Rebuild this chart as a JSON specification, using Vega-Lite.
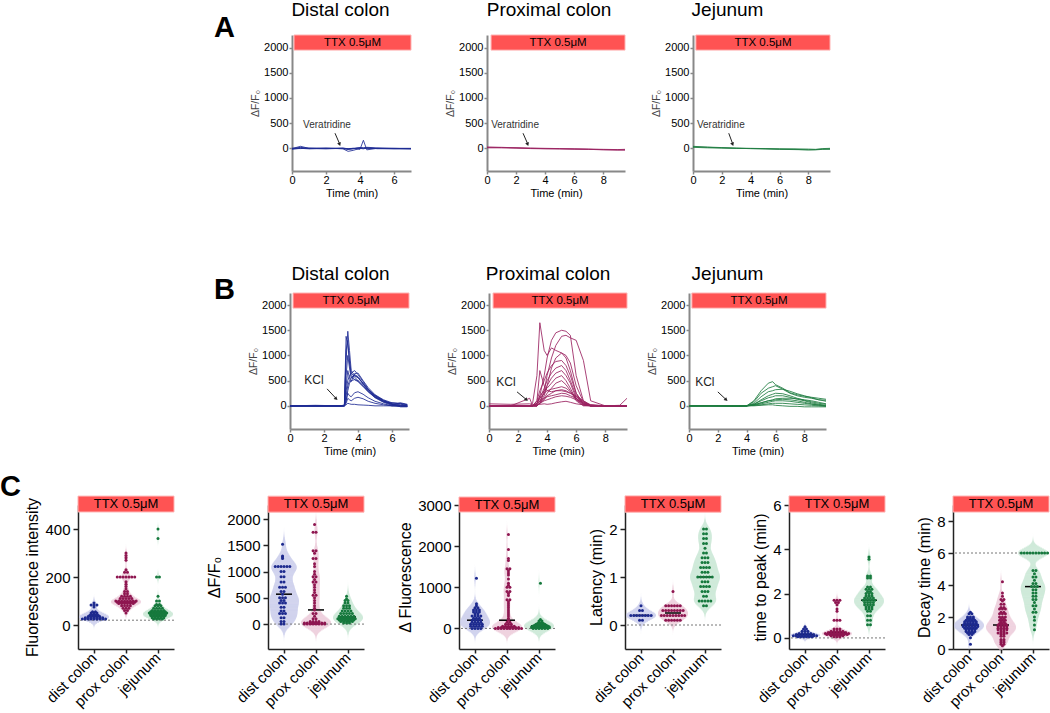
{
"$schema":"https://vega.github.io/schema/vega-lite/v6.json",
"padding":0,
"background":"white",
"spacing":0,"bounds":"full",
"config":{"font":"Liberation Sans","view":{"stroke":null},
"axis":{"grid":false,"labelOverlap":false,"labelFlush":false,"labelFontSize":15,"titleFontSize":16,"titleFontWeight":"normal","labelColor":"#000","titleColor":"#000","domainColor":"#222","domainWidth":1.5,"tickColor":"#222","tickWidth":1.5,"tickSize":5,"labelPadding":3,"titlePadding":4},
"title":{"fontWeight":"normal","color":"#000"}},
"datasets":{
"a1":[{"k":1,"t":0,"v":-10},{"k":1,"t":0.5,"v":20},{"k":1,"t":1,"v":-5},{"k":1,"t":2,"v":-10},{"k":1,"t":3,"v":0},{"k":1,"t":3.3,"v":-20},{"k":1,"t":3.6,"v":-10},{"k":1,"t":4,"v":10},{"k":1,"t":4.2,"v":5},{"k":1,"t":4.4,"v":0},{"k":1,"t":5,"v":-5},{"k":1,"t":6,"v":-10},{"k":1,"t":7,"v":-10},
{"k":2,"t":0,"v":0},{"k":2,"t":0.5,"v":-5},{"k":2,"t":1,"v":5},{"k":2,"t":2,"v":0},{"k":2,"t":3,"v":5},{"k":2,"t":3.3,"v":-10},{"k":2,"t":3.6,"v":0},{"k":2,"t":4,"v":-20},{"k":2,"t":4.2,"v":160},{"k":2,"t":4.4,"v":-30},{"k":2,"t":5,"v":0},{"k":2,"t":6,"v":-5},{"k":2,"t":7,"v":-5},
{"k":3,"t":0,"v":-20},{"k":3,"t":0.5,"v":0},{"k":3,"t":1,"v":-10},{"k":3,"t":2,"v":5},{"k":3,"t":3,"v":-10},{"k":3,"t":3.3,"v":-60},{"k":3,"t":3.6,"v":-40},{"k":3,"t":4,"v":0},{"k":3,"t":4.2,"v":-10},{"k":3,"t":4.4,"v":5},{"k":3,"t":5,"v":-5},{"k":3,"t":6,"v":0},{"k":3,"t":7,"v":-10},
{"k":4,"t":0,"v":-5},{"k":4,"t":0.5,"v":40},{"k":4,"t":1,"v":0},{"k":4,"t":2,"v":0},{"k":4,"t":3,"v":-5},{"k":4,"t":3.3,"v":-20},{"k":4,"t":3.6,"v":-5},{"k":4,"t":4,"v":5},{"k":4,"t":4.2,"v":0},{"k":4,"t":4.4,"v":10},{"k":4,"t":5,"v":-5},{"k":4,"t":6,"v":-5},{"k":4,"t":7,"v":-5},
{"k":5,"t":0,"v":0},{"k":5,"t":0.5,"v":10},{"k":5,"t":1,"v":0},{"k":5,"t":2,"v":-5},{"k":5,"t":3,"v":0},{"k":5,"t":3.3,"v":-5},{"k":5,"t":3.6,"v":0},{"k":5,"t":4,"v":15},{"k":5,"t":4.2,"v":10},{"k":5,"t":4.4,"v":20},{"k":5,"t":5,"v":10},{"k":5,"t":6,"v":0},{"k":5,"t":7,"v":0}],
"a2":[{"k":1,"t":0,"v":20},{"k":1,"t":1,"v":15},{"k":1,"t":2,"v":10},{"k":1,"t":3,"v":0},{"k":1,"t":4,"v":-5},{"k":1,"t":5,"v":-10},{"k":1,"t":6,"v":-15},{"k":1,"t":7,"v":-20},{"k":1,"t":8,"v":-25},{"k":1,"t":9,"v":-30},{"k":1,"t":9.5,"v":-30},
{"k":2,"t":0,"v":10},{"k":2,"t":1,"v":10},{"k":2,"t":2,"v":5},{"k":2,"t":3,"v":-5},{"k":2,"t":4,"v":-10},{"k":2,"t":5,"v":-10},{"k":2,"t":6,"v":-15},{"k":2,"t":7,"v":-20},{"k":2,"t":8,"v":-30},{"k":2,"t":9,"v":-35},{"k":2,"t":9.5,"v":-35},
{"k":3,"t":0,"v":25},{"k":3,"t":1,"v":20},{"k":3,"t":2,"v":10},{"k":3,"t":3,"v":5},{"k":3,"t":4,"v":0},{"k":3,"t":5,"v":-5},{"k":3,"t":6,"v":-10},{"k":3,"t":7,"v":-15},{"k":3,"t":8,"v":-20},{"k":3,"t":9,"v":-25},{"k":3,"t":9.5,"v":-20}],
"a3":[{"k":1,"t":0,"v":30},{"k":1,"t":1,"v":20},{"k":1,"t":2,"v":10},{"k":1,"t":3,"v":0},{"k":1,"t":4,"v":-5},{"k":1,"t":5,"v":-10},{"k":1,"t":6,"v":-15},{"k":1,"t":7,"v":-20},{"k":1,"t":8,"v":-30},{"k":1,"t":8.5,"v":-25},{"k":1,"t":9,"v":-15},{"k":1,"t":9.5,"v":-10},
{"k":2,"t":0,"v":20},{"k":2,"t":1,"v":10},{"k":2,"t":2,"v":5},{"k":2,"t":3,"v":0},{"k":2,"t":4,"v":-5},{"k":2,"t":5,"v":-10},{"k":2,"t":6,"v":-20},{"k":2,"t":7,"v":-25},{"k":2,"t":8,"v":-30},{"k":2,"t":8.5,"v":-30},{"k":2,"t":9,"v":-20},{"k":2,"t":9.5,"v":-20},
{"k":3,"t":0,"v":40},{"k":3,"t":1,"v":25},{"k":3,"t":2,"v":15},{"k":3,"t":3,"v":5},{"k":3,"t":4,"v":0},{"k":3,"t":5,"v":-5},{"k":3,"t":6,"v":-10},{"k":3,"t":7,"v":-10},{"k":3,"t":8,"v":-15},{"k":3,"t":8.5,"v":-20},{"k":3,"t":9,"v":-5},{"k":3,"t":9.5,"v":0}],
"b1":[
{"k":1,"t":0,"v":0},{"k":1,"t":1.5,"v":10},{"k":1,"t":3,"v":0},{"k":1,"t":3.2,"v":20},{"k":1,"t":3.3,"v":900},{"k":1,"t":3.4,"v":1480},{"k":1,"t":3.5,"v":1100},{"k":1,"t":3.6,"v":700},{"k":1,"t":3.8,"v":600},{"k":1,"t":4,"v":560},{"k":1,"t":4.3,"v":450},{"k":1,"t":4.6,"v":330},{"k":1,"t":5,"v":200},{"k":1,"t":5.5,"v":100},{"k":1,"t":6,"v":40},{"k":1,"t":6.5,"v":20},{"k":1,"t":6.9,"v":0},
{"k":2,"t":0,"v":5},{"k":2,"t":1.5,"v":0},{"k":2,"t":3,"v":-5},{"k":2,"t":3.2,"v":10},{"k":2,"t":3.3,"v":1380},{"k":2,"t":3.4,"v":1200},{"k":2,"t":3.5,"v":900},{"k":2,"t":3.6,"v":650},{"k":2,"t":3.8,"v":570},{"k":2,"t":4,"v":500},{"k":2,"t":4.3,"v":400},{"k":2,"t":4.6,"v":300},{"k":2,"t":5,"v":180},{"k":2,"t":5.5,"v":90},{"k":2,"t":6,"v":30},{"k":2,"t":6.5,"v":40},{"k":2,"t":6.9,"v":-10},
{"k":3,"t":0,"v":0},{"k":3,"t":1.5,"v":-5},{"k":3,"t":3,"v":5},{"k":3,"t":3.2,"v":0},{"k":3,"t":3.3,"v":1100},{"k":3,"t":3.4,"v":1300},{"k":3,"t":3.5,"v":850},{"k":3,"t":3.6,"v":600},{"k":3,"t":3.8,"v":520},{"k":3,"t":4,"v":480},{"k":3,"t":4.3,"v":380},{"k":3,"t":4.6,"v":280},{"k":3,"t":5,"v":170},{"k":3,"t":5.5,"v":80},{"k":3,"t":6,"v":60},{"k":3,"t":6.5,"v":50},{"k":3,"t":6.9,"v":20},
{"k":4,"t":0,"v":0},{"k":4,"t":1.5,"v":5},{"k":4,"t":3,"v":0},{"k":4,"t":3.2,"v":5},{"k":4,"t":3.3,"v":600},{"k":4,"t":3.4,"v":1000},{"k":4,"t":3.5,"v":750},{"k":4,"t":3.6,"v":550},{"k":4,"t":3.8,"v":600},{"k":4,"t":4,"v":560},{"k":4,"t":4.3,"v":430},{"k":4,"t":4.6,"v":320},{"k":4,"t":5,"v":200},{"k":4,"t":5.5,"v":100},{"k":4,"t":6,"v":30},{"k":4,"t":6.5,"v":-20},{"k":4,"t":6.9,"v":-20},
{"k":5,"t":0,"v":0},{"k":5,"t":1.5,"v":0},{"k":5,"t":3,"v":-5},{"k":5,"t":3.2,"v":0},{"k":5,"t":3.3,"v":300},{"k":5,"t":3.4,"v":500},{"k":5,"t":3.5,"v":600},{"k":5,"t":3.6,"v":650},{"k":5,"t":3.8,"v":700},{"k":5,"t":4,"v":620},{"k":5,"t":4.3,"v":480},{"k":5,"t":4.6,"v":330},{"k":5,"t":5,"v":210},{"k":5,"t":5.5,"v":110},{"k":5,"t":6,"v":40},{"k":5,"t":6.5,"v":0},{"k":5,"t":6.9,"v":-10},
{"k":6,"t":0,"v":0},{"k":6,"t":1.5,"v":0},{"k":6,"t":3,"v":0},{"k":6,"t":3.2,"v":5},{"k":6,"t":3.3,"v":200},{"k":6,"t":3.4,"v":400},{"k":6,"t":3.5,"v":500},{"k":6,"t":3.6,"v":560},{"k":6,"t":3.8,"v":620},{"k":6,"t":4,"v":580},{"k":6,"t":4.3,"v":440},{"k":6,"t":4.6,"v":300},{"k":6,"t":5,"v":180},{"k":6,"t":5.5,"v":80},{"k":6,"t":6,"v":20},{"k":6,"t":6.5,"v":60},{"k":6,"t":6.9,"v":30},
{"k":7,"t":0,"v":-5},{"k":7,"t":1.5,"v":0},{"k":7,"t":3,"v":0},{"k":7,"t":3.2,"v":0},{"k":7,"t":3.3,"v":100},{"k":7,"t":3.4,"v":300},{"k":7,"t":3.5,"v":450},{"k":7,"t":3.6,"v":500},{"k":7,"t":3.8,"v":520},{"k":7,"t":4,"v":500},{"k":7,"t":4.3,"v":400},{"k":7,"t":4.6,"v":280},{"k":7,"t":5,"v":160},{"k":7,"t":5.5,"v":70},{"k":7,"t":6,"v":10},{"k":7,"t":6.5,"v":-10},{"k":7,"t":6.9,"v":-10},
{"k":8,"t":0,"v":0},{"k":8,"t":1.5,"v":0},{"k":8,"t":3,"v":0},{"k":8,"t":3.2,"v":0},{"k":8,"t":3.3,"v":400},{"k":8,"t":3.4,"v":700},{"k":8,"t":3.5,"v":550},{"k":8,"t":3.6,"v":480},{"k":8,"t":3.8,"v":640},{"k":8,"t":4,"v":650},{"k":8,"t":4.3,"v":500},{"k":8,"t":4.6,"v":360},{"k":8,"t":5,"v":220},{"k":8,"t":5.5,"v":120},{"k":8,"t":6,"v":60},{"k":8,"t":6.5,"v":40},{"k":8,"t":6.9,"v":20},
{"k":9,"t":0,"v":0},{"k":9,"t":1.5,"v":0},{"k":9,"t":3,"v":0},{"k":9,"t":3.2,"v":0},{"k":9,"t":3.3,"v":100},{"k":9,"t":3.4,"v":250},{"k":9,"t":3.5,"v":200},{"k":9,"t":3.6,"v":180},{"k":9,"t":3.8,"v":260},{"k":9,"t":4,"v":280},{"k":9,"t":4.3,"v":230},{"k":9,"t":4.6,"v":160},{"k":9,"t":5,"v":90},{"k":9,"t":5.5,"v":40},{"k":9,"t":6,"v":0},{"k":9,"t":6.5,"v":0},{"k":9,"t":6.9,"v":0},
{"k":10,"t":0,"v":0},{"k":10,"t":1.5,"v":0},{"k":10,"t":3,"v":0},{"k":10,"t":3.2,"v":0},{"k":10,"t":3.3,"v":50},{"k":10,"t":3.4,"v":150},{"k":10,"t":3.5,"v":120},{"k":10,"t":3.6,"v":100},{"k":10,"t":3.8,"v":150},{"k":10,"t":4,"v":170},{"k":10,"t":4.3,"v":140},{"k":10,"t":4.6,"v":90},{"k":10,"t":5,"v":50},{"k":10,"t":5.5,"v":20},{"k":10,"t":6,"v":0},{"k":10,"t":6.5,"v":0},{"k":10,"t":6.9,"v":0},
{"k":11,"t":0,"v":0},{"k":11,"t":1.5,"v":0},{"k":11,"t":3,"v":0},{"k":11,"t":3.2,"v":0},{"k":11,"t":3.3,"v":20},{"k":11,"t":3.4,"v":50},{"k":11,"t":3.5,"v":40},{"k":11,"t":3.6,"v":30},{"k":11,"t":3.8,"v":30},{"k":11,"t":4,"v":20},{"k":11,"t":4.3,"v":15},{"k":11,"t":4.6,"v":10},{"k":11,"t":5,"v":0},{"k":11,"t":5.5,"v":0},{"k":11,"t":6,"v":0},{"k":11,"t":6.5,"v":0},{"k":11,"t":6.9,"v":0}],
"b2":[
{"k":1,"t":0,"v":0},{"k":1,"t":1.5,"v":0},{"k":1,"t":2.8,"v":0},{"k":1,"t":3,"v":50},{"k":1,"t":3.3,"v":600},{"k":1,"t":3.5,"v":1650},{"k":1,"t":3.8,"v":1100},{"k":1,"t":4,"v":1000},{"k":1,"t":4.3,"v":1150},{"k":1,"t":4.6,"v":1100},{"k":1,"t":5,"v":1050},{"k":1,"t":5.3,"v":950},{"k":1,"t":5.6,"v":700},{"k":1,"t":6,"v":250},{"k":1,"t":6.5,"v":30},{"k":1,"t":7,"v":0},{"k":1,"t":8,"v":0},{"k":1,"t":9,"v":0},{"k":1,"t":9.5,"v":0},
{"k":2,"t":0,"v":0},{"k":2,"t":1.5,"v":0},{"k":2,"t":2.8,"v":0},{"k":2,"t":3,"v":0},{"k":2,"t":3.3,"v":50},{"k":2,"t":3.5,"v":200},{"k":2,"t":3.8,"v":600},{"k":2,"t":4,"v":950},{"k":2,"t":4.3,"v":1300},{"k":2,"t":4.6,"v":1450},{"k":2,"t":5,"v":1500},{"k":2,"t":5.3,"v":1480},{"k":2,"t":5.6,"v":1400},{"k":2,"t":6,"v":600},{"k":2,"t":6.5,"v":100},{"k":2,"t":7,"v":0},{"k":2,"t":8,"v":0},{"k":2,"t":9,"v":0},{"k":2,"t":9.5,"v":0},
{"k":3,"t":0,"v":0},{"k":3,"t":1.5,"v":0},{"k":3,"t":2.8,"v":0},{"k":3,"t":3,"v":0},{"k":3,"t":3.3,"v":0},{"k":3,"t":3.5,"v":50},{"k":3,"t":3.8,"v":300},{"k":3,"t":4,"v":600},{"k":3,"t":4.3,"v":950},{"k":3,"t":4.6,"v":1200},{"k":3,"t":5,"v":1380},{"k":3,"t":5.3,"v":1400},{"k":3,"t":5.6,"v":1350},{"k":3,"t":6,"v":1300},{"k":3,"t":6.5,"v":900},{"k":3,"t":7,"v":100},{"k":3,"t":8,"v":0},{"k":3,"t":9,"v":0},{"k":3,"t":9.5,"v":0},
{"k":4,"t":0,"v":0},{"k":4,"t":1.5,"v":0},{"k":4,"t":2.8,"v":0},{"k":4,"t":3,"v":0},{"k":4,"t":3.3,"v":0},{"k":4,"t":3.5,"v":50},{"k":4,"t":3.8,"v":200},{"k":4,"t":4,"v":400},{"k":4,"t":4.3,"v":750},{"k":4,"t":4.6,"v":950},{"k":4,"t":5,"v":1050},{"k":4,"t":5.3,"v":1000},{"k":4,"t":5.6,"v":850},{"k":4,"t":6,"v":400},{"k":4,"t":6.5,"v":80},{"k":4,"t":7,"v":0},{"k":4,"t":8,"v":0},{"k":4,"t":9,"v":0},{"k":4,"t":9.5,"v":0},
{"k":5,"t":0,"v":0},{"k":5,"t":1.5,"v":0},{"k":5,"t":2.8,"v":0},{"k":5,"t":3,"v":0},{"k":5,"t":3.3,"v":100},{"k":5,"t":3.5,"v":300},{"k":5,"t":3.8,"v":500},{"k":5,"t":4,"v":650},{"k":5,"t":4.3,"v":800},{"k":5,"t":4.6,"v":880},{"k":5,"t":5,"v":900},{"k":5,"t":5.3,"v":800},{"k":5,"t":5.6,"v":600},{"k":5,"t":6,"v":250},{"k":5,"t":6.5,"v":50},{"k":5,"t":7,"v":0},{"k":5,"t":8,"v":0},{"k":5,"t":9,"v":0},{"k":5,"t":9.5,"v":0},
{"k":6,"t":0,"v":0},{"k":6,"t":1.5,"v":0},{"k":6,"t":2.8,"v":0},{"k":6,"t":3,"v":0},{"k":6,"t":3.3,"v":50},{"k":6,"t":3.5,"v":150},{"k":6,"t":3.8,"v":350},{"k":6,"t":4,"v":500},{"k":6,"t":4.3,"v":650},{"k":6,"t":4.6,"v":750},{"k":6,"t":5,"v":800},{"k":6,"t":5.3,"v":700},{"k":6,"t":5.6,"v":500},{"k":6,"t":6,"v":200},{"k":6,"t":6.5,"v":40},{"k":6,"t":7,"v":0},{"k":6,"t":8,"v":0},{"k":6,"t":9,"v":0},{"k":6,"t":9.5,"v":0},
{"k":7,"t":0,"v":0},{"k":7,"t":1.5,"v":0},{"k":7,"t":2.8,"v":0},{"k":7,"t":3,"v":0},{"k":7,"t":3.3,"v":0},{"k":7,"t":3.5,"v":100},{"k":7,"t":3.8,"v":250},{"k":7,"t":4,"v":400},{"k":7,"t":4.3,"v":550},{"k":7,"t":4.6,"v":650},{"k":7,"t":5,"v":700},{"k":7,"t":5.3,"v":600},{"k":7,"t":5.6,"v":450},{"k":7,"t":6,"v":150},{"k":7,"t":6.5,"v":20},{"k":7,"t":7,"v":0},{"k":7,"t":8,"v":0},{"k":7,"t":9,"v":0},{"k":7,"t":9.5,"v":0},
{"k":8,"t":0,"v":0},{"k":8,"t":1.5,"v":0},{"k":8,"t":2.8,"v":0},{"k":8,"t":3,"v":0},{"k":8,"t":3.3,"v":50},{"k":8,"t":3.5,"v":200},{"k":8,"t":3.8,"v":300},{"k":8,"t":4,"v":350},{"k":8,"t":4.3,"v":450},{"k":8,"t":4.6,"v":550},{"k":8,"t":5,"v":600},{"k":8,"t":5.3,"v":500},{"k":8,"t":5.6,"v":350},{"k":8,"t":6,"v":120},{"k":8,"t":6.5,"v":10},{"k":8,"t":7,"v":0},{"k":8,"t":8,"v":0},{"k":8,"t":9,"v":0},{"k":8,"t":9.5,"v":0},
{"k":9,"t":0,"v":0},{"k":9,"t":1.5,"v":0},{"k":9,"t":2.8,"v":0},{"k":9,"t":3,"v":0},{"k":9,"t":3.3,"v":0},{"k":9,"t":3.5,"v":50},{"k":9,"t":3.8,"v":150},{"k":9,"t":4,"v":250},{"k":9,"t":4.3,"v":350},{"k":9,"t":4.6,"v":450},{"k":9,"t":5,"v":500},{"k":9,"t":5.3,"v":420},{"k":9,"t":5.6,"v":300},{"k":9,"t":6,"v":100},{"k":9,"t":6.5,"v":0},{"k":9,"t":7,"v":0},{"k":9,"t":8,"v":0},{"k":9,"t":9,"v":0},{"k":9,"t":9.5,"v":0},
{"k":10,"t":0,"v":0},{"k":10,"t":1.5,"v":0},{"k":10,"t":2.8,"v":0},{"k":10,"t":3,"v":0},{"k":10,"t":3.3,"v":50},{"k":10,"t":3.5,"v":150},{"k":10,"t":3.8,"v":250},{"k":10,"t":4,"v":300},{"k":10,"t":4.3,"v":330},{"k":10,"t":4.6,"v":350},{"k":10,"t":5,"v":380},{"k":10,"t":5.3,"v":350},{"k":10,"t":5.6,"v":280},{"k":10,"t":6,"v":150},{"k":10,"t":6.5,"v":30},{"k":10,"t":7,"v":0},{"k":10,"t":8,"v":0},{"k":10,"t":9,"v":0},{"k":10,"t":9.5,"v":0},
{"k":11,"t":0,"v":0},{"k":11,"t":1.5,"v":0},{"k":11,"t":2.8,"v":0},{"k":11,"t":3,"v":0},{"k":11,"t":3.3,"v":0},{"k":11,"t":3.5,"v":50},{"k":11,"t":3.8,"v":120},{"k":11,"t":4,"v":200},{"k":11,"t":4.3,"v":250},{"k":11,"t":4.6,"v":300},{"k":11,"t":5,"v":300},{"k":11,"t":5.3,"v":280},{"k":11,"t":5.6,"v":250},{"k":11,"t":6,"v":180},{"k":11,"t":6.5,"v":80},{"k":11,"t":7,"v":10},{"k":11,"t":8,"v":0},{"k":11,"t":9,"v":0},{"k":11,"t":9.5,"v":0},
{"k":12,"t":0,"v":0},{"k":12,"t":1.5,"v":0},{"k":12,"t":2.8,"v":0},{"k":12,"t":3,"v":0},{"k":12,"t":3.3,"v":100},{"k":12,"t":3.5,"v":700},{"k":12,"t":3.8,"v":400},{"k":12,"t":4,"v":300},{"k":12,"t":4.3,"v":280},{"k":12,"t":4.6,"v":300},{"k":12,"t":5,"v":320},{"k":12,"t":5.3,"v":300},{"k":12,"t":5.6,"v":250},{"k":12,"t":6,"v":200},{"k":12,"t":6.5,"v":100},{"k":12,"t":7,"v":20},{"k":12,"t":8,"v":0},{"k":12,"t":9,"v":0},{"k":12,"t":9.5,"v":0},
{"k":13,"t":0,"v":0},{"k":13,"t":1.5,"v":0},{"k":13,"t":2.8,"v":0},{"k":13,"t":3,"v":0},{"k":13,"t":3.3,"v":30},{"k":13,"t":3.5,"v":100},{"k":13,"t":3.8,"v":150},{"k":13,"t":4,"v":180},{"k":13,"t":4.3,"v":200},{"k":13,"t":4.6,"v":220},{"k":13,"t":5,"v":250},{"k":13,"t":5.3,"v":240},{"k":13,"t":5.6,"v":200},{"k":13,"t":6,"v":150},{"k":13,"t":6.5,"v":60},{"k":13,"t":7,"v":0},{"k":13,"t":8,"v":0},{"k":13,"t":9,"v":0},{"k":13,"t":9.5,"v":0},
{"k":14,"t":0,"v":40},{"k":14,"t":1.5,"v":30},{"k":14,"t":2.8,"v":40},{"k":14,"t":3,"v":30},{"k":14,"t":3.3,"v":20},{"k":14,"t":3.5,"v":30},{"k":14,"t":3.8,"v":40},{"k":14,"t":4,"v":30},{"k":14,"t":4.3,"v":40},{"k":14,"t":4.6,"v":60},{"k":14,"t":5,"v":80},{"k":14,"t":5.3,"v":90},{"k":14,"t":5.6,"v":70},{"k":14,"t":6,"v":40},{"k":14,"t":6.5,"v":20},{"k":14,"t":7,"v":10},{"k":14,"t":8,"v":0},{"k":14,"t":9,"v":0},{"k":14,"t":9.5,"v":0},
{"k":15,"t":0,"v":0},{"k":15,"t":1.5,"v":0},{"k":15,"t":2.8,"v":150},{"k":15,"t":3,"v":0},{"k":15,"t":3.3,"v":0},{"k":15,"t":3.5,"v":50},{"k":15,"t":3.8,"v":100},{"k":15,"t":4,"v":120},{"k":15,"t":4.3,"v":150},{"k":15,"t":4.6,"v":180},{"k":15,"t":5,"v":200},{"k":15,"t":5.3,"v":190},{"k":15,"t":5.6,"v":170},{"k":15,"t":6,"v":120},{"k":15,"t":6.5,"v":60},{"k":15,"t":7,"v":20},{"k":15,"t":8,"v":0},{"k":15,"t":9,"v":10},{"k":15,"t":9.5,"v":150}],
"b3":[
{"k":1,"t":0,"v":0},{"k":1,"t":1,"v":5},{"k":1,"t":2,"v":0},{"k":1,"t":3,"v":-10},{"k":1,"t":3.5,"v":-5},{"k":1,"t":4,"v":0},{"k":1,"t":4.5,"v":100},{"k":1,"t":5,"v":300},{"k":1,"t":5.5,"v":450},{"k":1,"t":5.8,"v":480},{"k":1,"t":6,"v":420},{"k":1,"t":6.5,"v":350},{"k":1,"t":7,"v":260},{"k":1,"t":7.5,"v":220},{"k":1,"t":8,"v":190},{"k":1,"t":8.5,"v":170},{"k":1,"t":9,"v":150},{"k":1,"t":9.5,"v":130},
{"k":2,"t":0,"v":0},{"k":2,"t":1,"v":0},{"k":2,"t":2,"v":0},{"k":2,"t":3,"v":-10},{"k":2,"t":3.5,"v":-10},{"k":2,"t":4,"v":0},{"k":2,"t":4.5,"v":80},{"k":2,"t":5,"v":250},{"k":2,"t":5.5,"v":350},{"k":2,"t":5.8,"v":380},{"k":2,"t":6,"v":400},{"k":2,"t":6.5,"v":330},{"k":2,"t":7,"v":250},{"k":2,"t":7.5,"v":200},{"k":2,"t":8,"v":170},{"k":2,"t":8.5,"v":150},{"k":2,"t":9,"v":120},{"k":2,"t":9.5,"v":110},
{"k":3,"t":0,"v":0},{"k":3,"t":1,"v":0},{"k":3,"t":2,"v":0},{"k":3,"t":3,"v":-5},{"k":3,"t":3.5,"v":-5},{"k":3,"t":4,"v":0},{"k":3,"t":4.5,"v":50},{"k":3,"t":5,"v":180},{"k":3,"t":5.5,"v":280},{"k":3,"t":5.8,"v":300},{"k":3,"t":6,"v":320},{"k":3,"t":6.5,"v":330},{"k":3,"t":7,"v":290},{"k":3,"t":7.5,"v":240},{"k":3,"t":8,"v":200},{"k":3,"t":8.5,"v":160},{"k":3,"t":9,"v":120},{"k":3,"t":9.5,"v":90},
{"k":4,"t":0,"v":0},{"k":4,"t":1,"v":0},{"k":4,"t":2,"v":0},{"k":4,"t":3,"v":0},{"k":4,"t":3.5,"v":0},{"k":4,"t":4,"v":0},{"k":4,"t":4.5,"v":30},{"k":4,"t":5,"v":120},{"k":4,"t":5.5,"v":200},{"k":4,"t":5.8,"v":230},{"k":4,"t":6,"v":250},{"k":4,"t":6.5,"v":240},{"k":4,"t":7,"v":200},{"k":4,"t":7.5,"v":150},{"k":4,"t":8,"v":110},{"k":4,"t":8.5,"v":80},{"k":4,"t":9,"v":50},{"k":4,"t":9.5,"v":30},
{"k":5,"t":0,"v":0},{"k":5,"t":1,"v":0},{"k":5,"t":2,"v":0},{"k":5,"t":3,"v":0},{"k":5,"t":3.5,"v":0},{"k":5,"t":4,"v":0},{"k":5,"t":4.5,"v":30},{"k":5,"t":5,"v":100},{"k":5,"t":5.5,"v":160},{"k":5,"t":5.8,"v":180},{"k":5,"t":6,"v":200},{"k":5,"t":6.5,"v":200},{"k":5,"t":7,"v":170},{"k":5,"t":7.5,"v":130},{"k":5,"t":8,"v":100},{"k":5,"t":8.5,"v":60},{"k":5,"t":9,"v":30},{"k":5,"t":9.5,"v":10},
{"k":6,"t":0,"v":0},{"k":6,"t":1,"v":0},{"k":6,"t":2,"v":0},{"k":6,"t":3,"v":0},{"k":6,"t":3.5,"v":0},{"k":6,"t":4,"v":0},{"k":6,"t":4.5,"v":20},{"k":6,"t":5,"v":60},{"k":6,"t":5.5,"v":100},{"k":6,"t":5.8,"v":120},{"k":6,"t":6,"v":140},{"k":6,"t":6.5,"v":150},{"k":6,"t":7,"v":150},{"k":6,"t":7.5,"v":140},{"k":6,"t":8,"v":120},{"k":6,"t":8.5,"v":100},{"k":6,"t":9,"v":70},{"k":6,"t":9.5,"v":40},
{"k":7,"t":0,"v":0},{"k":7,"t":1,"v":0},{"k":7,"t":2,"v":0},{"k":7,"t":3,"v":0},{"k":7,"t":3.5,"v":0},{"k":7,"t":4,"v":0},{"k":7,"t":4.5,"v":10},{"k":7,"t":5,"v":40},{"k":7,"t":5.5,"v":70},{"k":7,"t":5.8,"v":90},{"k":7,"t":6,"v":100},{"k":7,"t":6.5,"v":100},{"k":7,"t":7,"v":90},{"k":7,"t":7.5,"v":70},{"k":7,"t":8,"v":50},{"k":7,"t":8.5,"v":30},{"k":7,"t":9,"v":20},{"k":7,"t":9.5,"v":0},
{"k":8,"t":0,"v":0},{"k":8,"t":1,"v":0},{"k":8,"t":2,"v":0},{"k":8,"t":3,"v":0},{"k":8,"t":3.5,"v":0},{"k":8,"t":4,"v":0},{"k":8,"t":4.5,"v":10},{"k":8,"t":5,"v":20},{"k":8,"t":5.5,"v":40},{"k":8,"t":5.8,"v":50},{"k":8,"t":6,"v":50},{"k":8,"t":6.5,"v":50},{"k":8,"t":7,"v":40},{"k":8,"t":7.5,"v":30},{"k":8,"t":8,"v":20},{"k":8,"t":8.5,"v":10},{"k":8,"t":9,"v":0},{"k":8,"t":9.5,"v":-10},
{"k":9,"t":0,"v":0},{"k":9,"t":1,"v":0},{"k":9,"t":2,"v":0},{"k":9,"t":3,"v":0},{"k":9,"t":3.5,"v":0},{"k":9,"t":4,"v":0},{"k":9,"t":4.5,"v":0},{"k":9,"t":5,"v":10},{"k":9,"t":5.5,"v":20},{"k":9,"t":5.8,"v":20},{"k":9,"t":6,"v":10},{"k":9,"t":6.5,"v":0},{"k":9,"t":7,"v":-10},{"k":9,"t":7.5,"v":-10},{"k":9,"t":8,"v":-20},{"k":9,"t":8.5,"v":-20},{"k":9,"t":9,"v":-20},{"k":9,"t":9.5,"v":-20},
{"k":10,"t":0,"v":0},{"k":10,"t":1,"v":0},{"k":10,"t":2,"v":0},{"k":10,"t":3,"v":0},{"k":10,"t":3.5,"v":0},{"k":10,"t":4,"v":0},{"k":10,"t":4.5,"v":20},{"k":10,"t":5,"v":60},{"k":10,"t":5.5,"v":100},{"k":10,"t":5.8,"v":110},{"k":10,"t":6,"v":120},{"k":10,"t":6.5,"v":130},{"k":10,"t":7,"v":120},{"k":10,"t":7.5,"v":100},{"k":10,"t":8,"v":70},{"k":10,"t":8.5,"v":40},{"k":10,"t":9,"v":10},{"k":10,"t":9.5,"v":0}],
"c1":[{"c":"d","v":25},{"c":"d","v":25},{"c":"d","v":25},{"c":"d","v":25},{"c":"d","v":25},{"c":"d","v":25},{"c":"d","v":25},{"c":"d","v":25},{"c":"d","v":25},{"c":"d","v":30},{"c":"d","v":30},{"c":"d","v":30},{"c":"d","v":30},{"c":"d","v":30},{"c":"d","v":30},{"c":"d","v":30},{"c":"d","v":35},{"c":"d","v":35},{"c":"d","v":35},{"c":"d","v":35},{"c":"d","v":35},{"c":"d","v":40},{"c":"d","v":40},{"c":"d","v":40},{"c":"d","v":40},{"c":"d","v":45},{"c":"d","v":45},{"c":"d","v":45},{"c":"d","v":50},{"c":"d","v":50},{"c":"d","v":50},{"c":"d","v":55},{"c":"d","v":55},{"c":"d","v":75},{"c":"d","v":83},{"c":"d","v":83},{"c":"d","v":83},{"c":"d","v":92},
{"c":"p","v":300},{"c":"p","v":290},{"c":"p","v":280},{"c":"p","v":270},{"c":"p","v":230},{"c":"p","v":220},{"c":"p","v":220},{"c":"p","v":200},{"c":"p","v":200},{"c":"p","v":200},{"c":"p","v":200},{"c":"p","v":200},{"c":"p","v":200},{"c":"p","v":200},{"c":"p","v":180},{"c":"p","v":170},{"c":"p","v":160},{"c":"p","v":150},{"c":"p","v":140},{"c":"p","v":140},{"c":"p","v":130},{"c":"p","v":130},{"c":"p","v":120},{"c":"p","v":120},{"c":"p","v":120},{"c":"p","v":120},{"c":"p","v":110},{"c":"p","v":110},{"c":"p","v":110},{"c":"p","v":110},{"c":"p","v":110},{"c":"p","v":100},{"c":"p","v":100},{"c":"p","v":100},{"c":"p","v":100},{"c":"p","v":100},{"c":"p","v":100},{"c":"p","v":100},{"c":"p","v":100},{"c":"p","v":95},{"c":"p","v":95},{"c":"p","v":95},{"c":"p","v":95},{"c":"p","v":95},{"c":"p","v":95},{"c":"p","v":95},{"c":"p","v":90},{"c":"p","v":90},{"c":"p","v":90},{"c":"p","v":90},{"c":"p","v":90},{"c":"p","v":90},{"c":"p","v":80},{"c":"p","v":80},{"c":"p","v":80},{"c":"p","v":80},{"c":"p","v":70},{"c":"p","v":70},{"c":"p","v":70},{"c":"p","v":60},{"c":"p","v":60},{"c":"p","v":50},
{"c":"j","v":400},{"c":"j","v":360},{"c":"j","v":200},{"c":"j","v":200},{"c":"j","v":120},{"c":"j","v":100},{"c":"j","v":100},{"c":"j","v":85},{"c":"j","v":85},{"c":"j","v":80},{"c":"j","v":80},{"c":"j","v":80},{"c":"j","v":70},{"c":"j","v":70},{"c":"j","v":70},{"c":"j","v":70},{"c":"j","v":60},{"c":"j","v":60},{"c":"j","v":60},{"c":"j","v":60},{"c":"j","v":60},{"c":"j","v":55},{"c":"j","v":55},{"c":"j","v":55},{"c":"j","v":55},{"c":"j","v":55},{"c":"j","v":55},{"c":"j","v":50},{"c":"j","v":50},{"c":"j","v":50},{"c":"j","v":50},{"c":"j","v":50},{"c":"j","v":50},{"c":"j","v":50},{"c":"j","v":45},{"c":"j","v":45},{"c":"j","v":45},{"c":"j","v":45},{"c":"j","v":45},{"c":"j","v":45},{"c":"j","v":40},{"c":"j","v":40},{"c":"j","v":40},{"c":"j","v":40},{"c":"j","v":40},{"c":"j","v":40},{"c":"j","v":35},{"c":"j","v":35},{"c":"j","v":35},{"c":"j","v":35},{"c":"j","v":35},{"c":"j","v":30},{"c":"j","v":30},{"c":"j","v":30},{"c":"j","v":30},{"c":"j","v":30},{"c":"j","v":25},{"c":"j","v":25},{"c":"j","v":25},{"c":"j","v":25}],
"c2":[{"c":"d","v":1520},{"c":"d","v":1300},{"c":"d","v":1280},{"c":"d","v":1250},{"c":"d","v":1100},{"c":"d","v":1100},{"c":"d","v":1100},{"c":"d","v":1100},{"c":"d","v":1100},{"c":"d","v":1100},{"c":"d","v":1000},{"c":"d","v":1000},{"c":"d","v":900},{"c":"d","v":900},{"c":"d","v":800},{"c":"d","v":800},{"c":"d","v":700},{"c":"d","v":700},{"c":"d","v":700},{"c":"d","v":620},{"c":"d","v":620},{"c":"d","v":570},{"c":"d","v":500},{"c":"d","v":500},{"c":"d","v":500},{"c":"d","v":450},{"c":"d","v":450},{"c":"d","v":400},{"c":"d","v":400},{"c":"d","v":400},{"c":"d","v":320},{"c":"d","v":320},{"c":"d","v":250},{"c":"d","v":250},{"c":"d","v":200},{"c":"d","v":200},{"c":"d","v":200},{"c":"d","v":120},{"c":"d","v":120},{"c":"d","v":50},{"c":"d","v":50},{"c":"d","v":0},{"c":"d","v":0},
{"c":"p","v":1900},{"c":"p","v":1750},{"c":"p","v":1750},{"c":"p","v":1400},{"c":"p","v":1400},{"c":"p","v":1350},{"c":"p","v":1250},{"c":"p","v":1250},{"c":"p","v":1150},{"c":"p","v":1100},{"c":"p","v":1000},{"c":"p","v":950},{"c":"p","v":900},{"c":"p","v":900},{"c":"p","v":850},{"c":"p","v":800},{"c":"p","v":800},{"c":"p","v":750},{"c":"p","v":700},{"c":"p","v":650},{"c":"p","v":600},{"c":"p","v":550},{"c":"p","v":550},{"c":"p","v":500},{"c":"p","v":450},{"c":"p","v":400},{"c":"p","v":350},{"c":"p","v":300},{"c":"p","v":270},{"c":"p","v":200},{"c":"p","v":200},{"c":"p","v":150},{"c":"p","v":100},{"c":"p","v":100},{"c":"p","v":50},{"c":"p","v":50},{"c":"p","v":50},{"c":"p","v":50},{"c":"p","v":20},{"c":"p","v":20},{"c":"p","v":20},{"c":"p","v":20},{"c":"p","v":20},{"c":"p","v":20},{"c":"p","v":20},{"c":"p","v":20},{"c":"p","v":10},{"c":"p","v":10},{"c":"p","v":10},{"c":"p","v":0},{"c":"p","v":0},{"c":"p","v":0},{"c":"p","v":0},{"c":"p","v":0},{"c":"p","v":0},{"c":"p","v":0},{"c":"p","v":0},
{"c":"j","v":530},{"c":"j","v":480},{"c":"j","v":450},{"c":"j","v":450},{"c":"j","v":400},{"c":"j","v":400},{"c":"j","v":350},{"c":"j","v":350},{"c":"j","v":350},{"c":"j","v":300},{"c":"j","v":300},{"c":"j","v":300},{"c":"j","v":250},{"c":"j","v":250},{"c":"j","v":250},{"c":"j","v":250},{"c":"j","v":200},{"c":"j","v":200},{"c":"j","v":200},{"c":"j","v":200},{"c":"j","v":200},{"c":"j","v":150},{"c":"j","v":150},{"c":"j","v":150},{"c":"j","v":150},{"c":"j","v":150},{"c":"j","v":150},{"c":"j","v":120},{"c":"j","v":120},{"c":"j","v":120},{"c":"j","v":120},{"c":"j","v":120},{"c":"j","v":120},{"c":"j","v":100},{"c":"j","v":100},{"c":"j","v":100},{"c":"j","v":100},{"c":"j","v":100},{"c":"j","v":100},{"c":"j","v":100},{"c":"j","v":80},{"c":"j","v":80},{"c":"j","v":80},{"c":"j","v":80},{"c":"j","v":80},{"c":"j","v":80},{"c":"j","v":50},{"c":"j","v":50},{"c":"j","v":50},{"c":"j","v":50},{"c":"j","v":50},{"c":"j","v":20},{"c":"j","v":20},{"c":"j","v":20}],
"c3":[{"c":"d","v":1220},{"c":"d","v":600},{"c":"d","v":550},{"c":"d","v":500},{"c":"d","v":500},{"c":"d","v":450},{"c":"d","v":450},{"c":"d","v":450},{"c":"d","v":400},{"c":"d","v":400},{"c":"d","v":400},{"c":"d","v":350},{"c":"d","v":350},{"c":"d","v":300},{"c":"d","v":300},{"c":"d","v":300},{"c":"d","v":300},{"c":"d","v":250},{"c":"d","v":250},{"c":"d","v":250},{"c":"d","v":200},{"c":"d","v":200},{"c":"d","v":200},{"c":"d","v":200},{"c":"d","v":150},{"c":"d","v":150},{"c":"d","v":150},{"c":"d","v":150},{"c":"d","v":100},{"c":"d","v":100},{"c":"d","v":100},{"c":"d","v":100},{"c":"d","v":100},{"c":"d","v":50},{"c":"d","v":50},{"c":"d","v":50},{"c":"d","v":50},{"c":"d","v":50},{"c":"d","v":0},{"c":"d","v":0},{"c":"d","v":0},{"c":"d","v":0},
{"c":"p","v":2280},{"c":"p","v":1920},{"c":"p","v":1700},{"c":"p","v":1650},{"c":"p","v":1450},{"c":"p","v":1450},{"c":"p","v":1400},{"c":"p","v":1350},{"c":"p","v":1300},{"c":"p","v":1200},{"c":"p","v":1100},{"c":"p","v":1050},{"c":"p","v":1000},{"c":"p","v":1000},{"c":"p","v":900},{"c":"p","v":900},{"c":"p","v":850},{"c":"p","v":800},{"c":"p","v":700},{"c":"p","v":700},{"c":"p","v":650},{"c":"p","v":600},{"c":"p","v":550},{"c":"p","v":500},{"c":"p","v":450},{"c":"p","v":400},{"c":"p","v":350},{"c":"p","v":300},{"c":"p","v":250},{"c":"p","v":200},{"c":"p","v":150},{"c":"p","v":150},{"c":"p","v":100},{"c":"p","v":100},{"c":"p","v":100},{"c":"p","v":50},{"c":"p","v":50},{"c":"p","v":50},{"c":"p","v":50},{"c":"p","v":50},{"c":"p","v":20},{"c":"p","v":20},{"c":"p","v":20},{"c":"p","v":20},{"c":"p","v":20},{"c":"p","v":20},{"c":"p","v":20},{"c":"p","v":20},{"c":"p","v":10},{"c":"p","v":0},{"c":"p","v":0},{"c":"p","v":0},{"c":"p","v":0},{"c":"p","v":0},{"c":"p","v":0},{"c":"p","v":0},{"c":"p","v":0},{"c":"p","v":0},{"c":"p","v":0},
{"c":"j","v":1100},{"c":"j","v":220},{"c":"j","v":180},{"c":"j","v":180},{"c":"j","v":150},{"c":"j","v":150},{"c":"j","v":120},{"c":"j","v":120},{"c":"j","v":120},{"c":"j","v":100},{"c":"j","v":100},{"c":"j","v":100},{"c":"j","v":100},{"c":"j","v":80},{"c":"j","v":80},{"c":"j","v":80},{"c":"j","v":80},{"c":"j","v":80},{"c":"j","v":60},{"c":"j","v":60},{"c":"j","v":60},{"c":"j","v":60},{"c":"j","v":60},{"c":"j","v":60},{"c":"j","v":40},{"c":"j","v":40},{"c":"j","v":40},{"c":"j","v":40},{"c":"j","v":40},{"c":"j","v":40},{"c":"j","v":40},{"c":"j","v":20},{"c":"j","v":20},{"c":"j","v":20},{"c":"j","v":20},{"c":"j","v":20},{"c":"j","v":20},{"c":"j","v":20},{"c":"j","v":0},{"c":"j","v":0},{"c":"j","v":0},{"c":"j","v":0},{"c":"j","v":0},{"c":"j","v":0}],
"c4":[{"c":"d","v":0.4},{"c":"d","v":0.3},{"c":"d","v":0.3},{"c":"d","v":0.2},{"c":"d","v":0.2},{"c":"d","v":0.2},{"c":"d","v":0.2},{"c":"d","v":0.2},{"c":"d","v":0.2},{"c":"d","v":0.2},{"c":"d","v":0.2},{"c":"d","v":0.1},{"c":"d","v":0.1},
{"c":"p","v":0.7},{"c":"p","v":0.4},{"c":"p","v":0.4},{"c":"p","v":0.4},{"c":"p","v":0.4},{"c":"p","v":0.4},{"c":"p","v":0.4},{"c":"p","v":0.3},{"c":"p","v":0.3},{"c":"p","v":0.3},{"c":"p","v":0.3},{"c":"p","v":0.3},{"c":"p","v":0.3},{"c":"p","v":0.3},{"c":"p","v":0.3},{"c":"p","v":0.2},{"c":"p","v":0.2},{"c":"p","v":0.2},{"c":"p","v":0.2},{"c":"p","v":0.2},{"c":"p","v":0.2},{"c":"p","v":0.2},{"c":"p","v":0.2},{"c":"p","v":0.2},{"c":"p","v":0.1},{"c":"p","v":0.1},{"c":"p","v":0.1},{"c":"p","v":0.1},{"c":"p","v":0.1},{"c":"p","v":0.1},
{"c":"j","v":2.0},{"c":"j","v":2.0},{"c":"j","v":1.9},{"c":"j","v":1.9},{"c":"j","v":1.8},{"c":"j","v":1.8},{"c":"j","v":1.7},{"c":"j","v":1.7},{"c":"j","v":1.6},{"c":"j","v":1.5},{"c":"j","v":1.5},{"c":"j","v":1.4},{"c":"j","v":1.4},{"c":"j","v":1.4},{"c":"j","v":1.3},{"c":"j","v":1.3},{"c":"j","v":1.3},{"c":"j","v":1.2},{"c":"j","v":1.2},{"c":"j","v":1.2},{"c":"j","v":1.2},{"c":"j","v":1.1},{"c":"j","v":1.1},{"c":"j","v":1.1},{"c":"j","v":1.0},{"c":"j","v":1.0},{"c":"j","v":1.0},{"c":"j","v":1.0},{"c":"j","v":1.0},{"c":"j","v":1.0},{"c":"j","v":0.9},{"c":"j","v":0.9},{"c":"j","v":0.9},{"c":"j","v":0.8},{"c":"j","v":0.8},{"c":"j","v":0.8},{"c":"j","v":0.8},{"c":"j","v":0.7},{"c":"j","v":0.7},{"c":"j","v":0.7},{"c":"j","v":0.6},{"c":"j","v":0.6},{"c":"j","v":0.5},{"c":"j","v":0.5},{"c":"j","v":0.5},{"c":"j","v":0.5},{"c":"j","v":0.5},{"c":"j","v":0.4},{"c":"j","v":0.4}],
"c5":[{"c":"d","v":0.5},{"c":"d","v":0.4},{"c":"d","v":0.4},{"c":"d","v":0.3},{"c":"d","v":0.3},{"c":"d","v":0.3},{"c":"d","v":0.2},{"c":"d","v":0.2},{"c":"d","v":0.2},{"c":"d","v":0.2},{"c":"d","v":0.2},{"c":"d","v":0.15},{"c":"d","v":0.15},{"c":"d","v":0.15},{"c":"d","v":0.15},{"c":"d","v":0.15},{"c":"d","v":0.15},{"c":"d","v":0.15},{"c":"d","v":0.1},{"c":"d","v":0.1},{"c":"d","v":0.1},{"c":"d","v":0.1},{"c":"d","v":0.1},{"c":"d","v":0.1},{"c":"d","v":0.1},{"c":"d","v":0.1},{"c":"d","v":0.1},{"c":"d","v":0.05},{"c":"d","v":0.05},{"c":"d","v":0.05},{"c":"d","v":0.05},{"c":"d","v":0.05},{"c":"d","v":0.05},
{"c":"p","v":1.7},{"c":"p","v":1.7},{"c":"p","v":1.7},{"c":"p","v":1.6},{"c":"p","v":1.6},{"c":"p","v":1.5},{"c":"p","v":1.3},{"c":"p","v":1.2},{"c":"p","v":0.8},{"c":"p","v":0.8},{"c":"p","v":0.8},{"c":"p","v":0.4},{"c":"p","v":0.4},{"c":"p","v":0.4},{"c":"p","v":0.3},{"c":"p","v":0.3},{"c":"p","v":0.3},{"c":"p","v":0.3},{"c":"p","v":0.3},{"c":"p","v":0.25},{"c":"p","v":0.25},{"c":"p","v":0.25},{"c":"p","v":0.25},{"c":"p","v":0.25},{"c":"p","v":0.25},{"c":"p","v":0.25},{"c":"p","v":0.2},{"c":"p","v":0.2},{"c":"p","v":0.2},{"c":"p","v":0.2},{"c":"p","v":0.2},{"c":"p","v":0.2},{"c":"p","v":0.2},{"c":"p","v":0.2},{"c":"p","v":0.2},{"c":"p","v":0.15},{"c":"p","v":0.15},{"c":"p","v":0.15},{"c":"p","v":0.15},{"c":"p","v":0.15},{"c":"p","v":0.15},{"c":"p","v":0.15},{"c":"p","v":0.15},{"c":"p","v":0.1},{"c":"p","v":0.1},{"c":"p","v":0.1},{"c":"p","v":0.1},{"c":"p","v":0.1},{"c":"p","v":0.05},{"c":"p","v":0.05},{"c":"p","v":0.05},
{"c":"j","v":3.65},{"c":"j","v":3.55},{"c":"j","v":2.8},{"c":"j","v":2.8},{"c":"j","v":2.7},{"c":"j","v":2.7},{"c":"j","v":2.3},{"c":"j","v":2.3},{"c":"j","v":2.2},{"c":"j","v":2.2},{"c":"j","v":2.2},{"c":"j","v":2.1},{"c":"j","v":2.1},{"c":"j","v":2.0},{"c":"j","v":2.0},{"c":"j","v":2.0},{"c":"j","v":1.9},{"c":"j","v":1.9},{"c":"j","v":1.9},{"c":"j","v":1.8},{"c":"j","v":1.8},{"c":"j","v":1.8},{"c":"j","v":1.8},{"c":"j","v":1.7},{"c":"j","v":1.7},{"c":"j","v":1.7},{"c":"j","v":1.7},{"c":"j","v":1.7},{"c":"j","v":1.6},{"c":"j","v":1.6},{"c":"j","v":1.6},{"c":"j","v":1.6},{"c":"j","v":1.5},{"c":"j","v":1.5},{"c":"j","v":1.5},{"c":"j","v":1.5},{"c":"j","v":1.4},{"c":"j","v":1.4},{"c":"j","v":1.4},{"c":"j","v":1.3},{"c":"j","v":1.3},{"c":"j","v":1.3},{"c":"j","v":1.2},{"c":"j","v":1.2},{"c":"j","v":1.0},{"c":"j","v":1.0},{"c":"j","v":0.8},{"c":"j","v":0.8},{"c":"j","v":0.6},{"c":"j","v":0.6}],
"c6":[{"c":"d","v":2.3},{"c":"d","v":2.2},{"c":"d","v":2.2},{"c":"d","v":2.0},{"c":"d","v":2.0},{"c":"d","v":2.0},{"c":"d","v":1.9},{"c":"d","v":1.9},{"c":"d","v":1.9},{"c":"d","v":1.8},{"c":"d","v":1.8},{"c":"d","v":1.8},{"c":"d","v":1.8},{"c":"d","v":1.7},{"c":"d","v":1.7},{"c":"d","v":1.7},{"c":"d","v":1.7},{"c":"d","v":1.7},{"c":"d","v":1.6},{"c":"d","v":1.6},{"c":"d","v":1.6},{"c":"d","v":1.6},{"c":"d","v":1.6},{"c":"d","v":1.5},{"c":"d","v":1.5},{"c":"d","v":1.5},{"c":"d","v":1.5},{"c":"d","v":1.5},{"c":"d","v":1.5},{"c":"d","v":1.4},{"c":"d","v":1.4},{"c":"d","v":1.4},{"c":"d","v":1.4},{"c":"d","v":1.4},{"c":"d","v":1.4},{"c":"d","v":1.3},{"c":"d","v":1.3},{"c":"d","v":1.3},{"c":"d","v":1.3},{"c":"d","v":1.3},{"c":"d","v":1.2},{"c":"d","v":1.2},{"c":"d","v":1.2},{"c":"d","v":1.2},{"c":"d","v":1.1},{"c":"d","v":1.1},{"c":"d","v":1.1},{"c":"d","v":1.1},{"c":"d","v":1.0},{"c":"d","v":1.0},{"c":"d","v":1.0},{"c":"d","v":0.9},{"c":"d","v":0.9},{"c":"d","v":0.7},{"c":"d","v":0.3},
{"c":"p","v":4.2},{"c":"p","v":3.5},{"c":"p","v":3.3},{"c":"p","v":3.1},{"c":"p","v":3.1},{"c":"p","v":3.0},{"c":"p","v":2.8},{"c":"p","v":2.8},{"c":"p","v":2.6},{"c":"p","v":2.6},{"c":"p","v":2.5},{"c":"p","v":2.5},{"c":"p","v":2.5},{"c":"p","v":2.3},{"c":"p","v":2.3},{"c":"p","v":2.2},{"c":"p","v":2.2},{"c":"p","v":2.2},{"c":"p","v":2.0},{"c":"p","v":2.0},{"c":"p","v":2.0},{"c":"p","v":1.9},{"c":"p","v":1.9},{"c":"p","v":1.8},{"c":"p","v":1.8},{"c":"p","v":1.8},{"c":"p","v":1.7},{"c":"p","v":1.7},{"c":"p","v":1.6},{"c":"p","v":1.6},{"c":"p","v":1.6},{"c":"p","v":1.5},{"c":"p","v":1.5},{"c":"p","v":1.5},{"c":"p","v":1.5},{"c":"p","v":1.4},{"c":"p","v":1.4},{"c":"p","v":1.4},{"c":"p","v":1.4},{"c":"p","v":1.3},{"c":"p","v":1.3},{"c":"p","v":1.3},{"c":"p","v":1.3},{"c":"p","v":1.2},{"c":"p","v":1.2},{"c":"p","v":1.2},{"c":"p","v":1.2},{"c":"p","v":1.1},{"c":"p","v":1.1},{"c":"p","v":1.0},{"c":"p","v":1.0},{"c":"p","v":1.0},{"c":"p","v":1.0},{"c":"p","v":0.9},{"c":"p","v":0.9},{"c":"p","v":0.8},{"c":"p","v":0.8},{"c":"p","v":0.6},{"c":"p","v":0.6},{"c":"p","v":0.5},{"c":"p","v":0.5},{"c":"p","v":0.4},{"c":"p","v":0.4},{"c":"p","v":0.3},{"c":"p","v":0.3},{"c":"p","v":0.2},
{"c":"j","v":6.0},{"c":"j","v":6.0},{"c":"j","v":6.0},{"c":"j","v":6.0},{"c":"j","v":6.0},{"c":"j","v":6.0},{"c":"j","v":6.0},{"c":"j","v":6.0},{"c":"j","v":6.0},{"c":"j","v":6.0},{"c":"j","v":4.9},{"c":"j","v":4.9},{"c":"j","v":4.7},{"c":"j","v":4.5},{"c":"j","v":4.5},{"c":"j","v":4.3},{"c":"j","v":4.1},{"c":"j","v":4.1},{"c":"j","v":3.9},{"c":"j","v":3.9},{"c":"j","v":3.9},{"c":"j","v":3.7},{"c":"j","v":3.7},{"c":"j","v":3.5},{"c":"j","v":3.5},{"c":"j","v":3.3},{"c":"j","v":3.3},{"c":"j","v":3.1},{"c":"j","v":3.1},{"c":"j","v":2.9},{"c":"j","v":2.7},{"c":"j","v":2.7},{"c":"j","v":2.5},{"c":"j","v":2.3},{"c":"j","v":2.3},{"c":"j","v":2.0},{"c":"j","v":1.8},{"c":"j","v":1.5},{"c":"j","v":1.2}]
},
"vconcat":[
{"spacing":0,"bounds":"flush","hconcat":[
{"width":292,"height":136,"data":{"values":[{}]},"mark":{"type":"text","text":""},"title":{"text":"A","anchor":"end","frame":"group","dx":-57,"offset":-31,"baseline":"alphabetic","fontSize":29,"fontWeight":"bold"}},
{"width":119,"height":136,"title":{"text":"Distal colon","anchor":"middle","frame":"group","dx":-11,"offset":0,"baseline":"alphabetic","fontSize":19},
"layer":[
{"data":{"name":"a1"},"mark":{"type":"line","color":"#1f2b94","strokeWidth":1,"opacity":0.85},"encoding":{"x":{"field":"t","type":"quantitative","scale":{"domain":[0,7],"nice":false},"axis":{"values":[0,2,4,6],"tickCount":10,"format":"d","title":"Time (min)","labelFontSize":11,"titleFontSize":11,"domainColor":"#888","domainWidth":2,"tickColor":"#888","tickSize":3,"labelPadding":0,"titlePadding":2}},"y":{"field":"v","type":"quantitative","scale":{"domain":[-450,2250],"nice":false},"axis":{"values":[0,500,1000,1500,2000],"tickCount":10,"format":"d","title":"ΔF/F₀","labelFontSize":11,"titleFontSize":10.5,"titleColor":"#444","domainColor":"#888","domainWidth":2,"tickColor":"#888","tickSize":3,"labelPadding":1,"titlePadding":3}},"detail":{"field":"k"}}},
{"data":{"values":[{}]},"mark":{"type":"rect","color":"#ff5353","stroke":"#ffb3b3","strokeWidth":1},"encoding":{"x":{"datum":0.12},"x2":{"datum":7},"y":{"datum":1950},"y2":{"datum":2250}}},
{"data":{"values":[{}]},"mark":{"type":"text","text":"TTX 0.5μM","fontSize":11.5},"encoding":{"x":{"datum":3.56},"y":{"datum":2100}}},
{"data":{"values":[{}]},"mark":{"type":"text","text":"Veratridine","fontSize":10,"color":"#333"},"encoding":{"x":{"datum":2.06},"y":{"datum":460}}},
{"data":{"values":[{}]},"mark":{"type":"rule","color":"#222"},"encoding":{"x":{"datum":2.53},"y":{"datum":300},"x2":{"datum":2.8},"y2":{"datum":90}}},
{"data":{"values":[{}]},"mark":{"type":"point","shape":"triangle-down","filled":true,"color":"#222","size":16,"angle":-22,"opacity":1},"encoding":{"x":{"datum":2.8},"y":{"datum":80}}}]},
{"width":76,"height":229,"data":{"values":[{}]},"mark":{"type":"text","text":""}},
{"width":138,"height":136,"title":{"text":"Proximal colon","anchor":"middle","frame":"group","dx":-7,"offset":0,"baseline":"alphabetic","fontSize":19},
"layer":[
{"data":{"name":"a2"},"mark":{"type":"line","color":"#9a2260","strokeWidth":1,"opacity":0.85},"encoding":{"x":{"field":"t","type":"quantitative","scale":{"domain":[0,9.5],"nice":false},"axis":{"values":[0,2,4,6,8],"tickCount":10,"format":"d","title":"Time (min)","labelFontSize":11,"titleFontSize":11,"domainColor":"#888","domainWidth":2,"tickColor":"#888","tickSize":3,"labelPadding":0,"titlePadding":2}},"y":{"field":"v","type":"quantitative","scale":{"domain":[-450,2250],"nice":false},"axis":{"values":[0,500,1000,1500,2000],"tickCount":10,"format":"d","title":"ΔF/F₀","labelFontSize":11,"titleFontSize":10.5,"titleColor":"#444","domainColor":"#888","domainWidth":2,"tickColor":"#888","tickSize":3,"labelPadding":1,"titlePadding":3}},"detail":{"field":"k"}}},
{"data":{"values":[{}]},"mark":{"type":"rect","color":"#ff5353","stroke":"#ffb3b3","strokeWidth":1},"encoding":{"x":{"datum":0.28},"x2":{"datum":9.5},"y":{"datum":1950},"y2":{"datum":2250}}},
{"data":{"values":[{}]},"mark":{"type":"text","text":"TTX 0.5μM","fontSize":11.5},"encoding":{"x":{"datum":4.89},"y":{"datum":2100}}},
{"data":{"values":[{}]},"mark":{"type":"text","text":"Veratridine","fontSize":10,"color":"#333"},"encoding":{"x":{"datum":1.93},"y":{"datum":460}}},
{"data":{"values":[{}]},"mark":{"type":"rule","color":"#222"},"encoding":{"x":{"datum":2.48},"y":{"datum":300},"x2":{"datum":2.8},"y2":{"datum":90}}},
{"data":{"values":[{}]},"mark":{"type":"point","shape":"triangle-down","filled":true,"color":"#222","size":16,"angle":-22,"opacity":1},"encoding":{"x":{"datum":2.8},"y":{"datum":80}}}]},
{"width":68,"height":1,"data":{"values":[{}]},"mark":{"type":"text","text":""}},
{"width":137,"height":136,"title":{"text":"Jejunum","anchor":"middle","frame":"group","dx":-34,"offset":0,"baseline":"alphabetic","fontSize":19},
"layer":[
{"data":{"name":"a3"},"mark":{"type":"line","color":"#1e7d41","strokeWidth":1,"opacity":0.85},"encoding":{"x":{"field":"t","type":"quantitative","scale":{"domain":[0,9.5],"nice":false},"axis":{"values":[0,2,4,6,8],"tickCount":10,"format":"d","title":"Time (min)","labelFontSize":11,"titleFontSize":11,"domainColor":"#888","domainWidth":2,"tickColor":"#888","tickSize":3,"labelPadding":0,"titlePadding":2}},"y":{"field":"v","type":"quantitative","scale":{"domain":[-450,2250],"nice":false},"axis":{"values":[0,500,1000,1500,2000],"tickCount":10,"format":"d","title":"ΔF/F₀","labelFontSize":11,"titleFontSize":10.5,"titleColor":"#444","domainColor":"#888","domainWidth":2,"tickColor":"#888","tickSize":3,"labelPadding":1,"titlePadding":3}},"detail":{"field":"k"}}},
{"data":{"values":[{}]},"mark":{"type":"rect","color":"#ff5353","stroke":"#ffb3b3","strokeWidth":1},"encoding":{"x":{"datum":0.2},"x2":{"datum":9.5},"y":{"datum":1950},"y2":{"datum":2250}}},
{"data":{"values":[{}]},"mark":{"type":"text","text":"TTX 0.5μM","fontSize":11.5},"encoding":{"x":{"datum":4.85},"y":{"datum":2100}}},
{"data":{"values":[{}]},"mark":{"type":"text","text":"Veratridine","fontSize":10,"color":"#333"},"encoding":{"x":{"datum":1.93},"y":{"datum":460}}},
{"data":{"values":[{}]},"mark":{"type":"rule","color":"#222"},"encoding":{"x":{"datum":2.48},"y":{"datum":300},"x2":{"datum":2.75},"y2":{"datum":90}}},
{"data":{"values":[{}]},"mark":{"type":"point","shape":"triangle-down","filled":true,"color":"#222","size":16,"angle":-22,"opacity":1},"encoding":{"x":{"datum":2.75},"y":{"datum":80}}}]}
]},
{"spacing":0,"bounds":"flush","hconcat":[
{"width":290,"height":136,"data":{"values":[{}]},"mark":{"type":"text","text":""},"title":{"text":"B","anchor":"end","frame":"group","dx":-55,"offset":-35,"baseline":"alphabetic","fontSize":29,"fontWeight":"bold"}},
{"width":119,"height":136,"title":{"text":"Distal colon","anchor":"middle","frame":"group","dx":-9,"offset":-6,"baseline":"alphabetic","fontSize":19},
"layer":[
{"data":{"name":"b1"},"mark":{"type":"line","color":"#1f2b94","strokeWidth":1,"opacity":0.85},"encoding":{"x":{"field":"t","type":"quantitative","scale":{"domain":[0,7],"nice":false},"axis":{"values":[0,2,4,6],"tickCount":10,"format":"d","title":"Time (min)","labelFontSize":11,"titleFontSize":11,"domainColor":"#888","domainWidth":2,"tickColor":"#888","tickSize":3,"labelPadding":0,"titlePadding":2}},"y":{"field":"v","type":"quantitative","scale":{"domain":[-460,2240],"nice":false},"axis":{"values":[0,500,1000,1500,2000],"tickCount":10,"format":"d","title":"ΔF/F₀","labelFontSize":11,"titleFontSize":10.5,"titleColor":"#444","domainColor":"#888","domainWidth":2,"tickColor":"#888","tickSize":3,"labelPadding":1,"titlePadding":3}},"detail":{"field":"k"}}},
{"data":{"values":[{}]},"mark":{"type":"rect","color":"#ff5353","stroke":"#ffb3b3","strokeWidth":1},"encoding":{"x":{"datum":0.18},"x2":{"datum":7},"y":{"datum":1940},"y2":{"datum":2240}}},
{"data":{"values":[{}]},"mark":{"type":"text","text":"TTX 0.5μM","fontSize":11.5},"encoding":{"x":{"datum":3.59},"y":{"datum":2090}}},
{"data":{"values":[{}]},"mark":{"type":"text","text":"KCl","fontSize":12,"color":"#222"},"encoding":{"x":{"datum":1.41},"y":{"datum":515}}},
{"data":{"values":[{}]},"mark":{"type":"rule","color":"#222"},"encoding":{"x":{"datum":2.18},"y":{"datum":337},"x2":{"datum":2.7},"y2":{"datum":150}}},
{"data":{"values":[{}]},"mark":{"type":"point","shape":"triangle-down","filled":true,"color":"#222","size":16,"angle":-48,"opacity":1},"encoding":{"x":{"datum":2.72},"y":{"datum":140}}}]},
{"width":80,"height":180,"data":{"values":[{}]},"mark":{"type":"text","text":""}},
{"width":138,"height":136,"title":{"text":"Proximal colon","anchor":"middle","frame":"group","dx":-10,"offset":-6,"baseline":"alphabetic","fontSize":19},
"layer":[
{"data":{"name":"b2"},"mark":{"type":"line","color":"#9a2260","strokeWidth":1,"opacity":0.85},"encoding":{"x":{"field":"t","type":"quantitative","scale":{"domain":[0,9.5],"nice":false},"axis":{"values":[0,2,4,6,8],"tickCount":10,"format":"d","title":"Time (min)","labelFontSize":11,"titleFontSize":11,"domainColor":"#888","domainWidth":2,"tickColor":"#888","tickSize":3,"labelPadding":0,"titlePadding":2}},"y":{"field":"v","type":"quantitative","scale":{"domain":[-460,2240],"nice":false},"axis":{"values":[0,500,1000,1500,2000],"tickCount":10,"format":"d","title":"ΔF/F₀","labelFontSize":11,"titleFontSize":10.5,"titleColor":"#444","domainColor":"#888","domainWidth":2,"tickColor":"#888","tickSize":3,"labelPadding":1,"titlePadding":3}},"detail":{"field":"k"}}},
{"data":{"values":[{}]},"mark":{"type":"rect","color":"#ff5353","stroke":"#ffb3b3","strokeWidth":1},"encoding":{"x":{"datum":0.28},"x2":{"datum":9.5},"y":{"datum":1940},"y2":{"datum":2240}}},
{"data":{"values":[{}]},"mark":{"type":"text","text":"TTX 0.5μM","fontSize":11.5},"encoding":{"x":{"datum":4.89},"y":{"datum":2090}}},
{"data":{"values":[{}]},"mark":{"type":"text","text":"KCl","fontSize":12,"color":"#222"},"encoding":{"x":{"datum":1.17},"y":{"datum":475}}},
{"data":{"values":[{}]},"mark":{"type":"rule","color":"#222"},"encoding":{"x":{"datum":1.93},"y":{"datum":277},"x2":{"datum":2.55},"y2":{"datum":130}}},
{"data":{"values":[{}]},"mark":{"type":"point","shape":"triangle-down","filled":true,"color":"#222","size":16,"angle":-48,"opacity":1},"encoding":{"x":{"datum":2.58},"y":{"datum":120}}}]},
{"width":62,"height":1,"data":{"values":[{}]},"mark":{"type":"text","text":""}},
{"width":137,"height":136,"title":{"text":"Jejunum","anchor":"middle","frame":"group","dx":-30,"offset":-6,"baseline":"alphabetic","fontSize":19},
"layer":[
{"data":{"name":"b3"},"mark":{"type":"line","color":"#1e7d41","strokeWidth":1,"opacity":0.85},"encoding":{"x":{"field":"t","type":"quantitative","scale":{"domain":[0,9.5],"nice":false},"axis":{"values":[0,2,4,6,8],"tickCount":10,"format":"d","title":"Time (min)","labelFontSize":11,"titleFontSize":11,"domainColor":"#888","domainWidth":2,"tickColor":"#888","tickSize":3,"labelPadding":0,"titlePadding":2}},"y":{"field":"v","type":"quantitative","scale":{"domain":[-460,2240],"nice":false},"axis":{"values":[0,500,1000,1500,2000],"tickCount":10,"format":"d","title":"ΔF/F₀","labelFontSize":11,"titleFontSize":10.5,"titleColor":"#444","domainColor":"#888","domainWidth":2,"tickColor":"#888","tickSize":3,"labelPadding":1,"titlePadding":3}},"detail":{"field":"k"}}},
{"data":{"values":[{}]},"mark":{"type":"rect","color":"#ff5353","stroke":"#ffb3b3","strokeWidth":1},"encoding":{"x":{"datum":0.2},"x2":{"datum":9.5},"y":{"datum":1940},"y2":{"datum":2240}}},
{"data":{"values":[{}]},"mark":{"type":"text","text":"TTX 0.5μM","fontSize":11.5},"encoding":{"x":{"datum":4.85},"y":{"datum":2090}}},
{"data":{"values":[{}]},"mark":{"type":"text","text":"KCl","fontSize":12,"color":"#222"},"encoding":{"x":{"datum":1.1},"y":{"datum":475}}},
{"data":{"values":[{}]},"mark":{"type":"rule","color":"#222"},"encoding":{"x":{"datum":2.0},"y":{"datum":277},"x2":{"datum":2.55},"y2":{"datum":130}}},
{"data":{"values":[{}]},"mark":{"type":"point","shape":"triangle-down","filled":true,"color":"#222","size":16,"angle":-48,"opacity":1},"encoding":{"x":{"datum":2.58},"y":{"datum":120}}}]}
]},
{"spacing":0,"bounds":"flush","hconcat":[
{"width":78,"height":144,"data":{"values":[{}]},"mark":{"type":"text","text":""},"title":{"text":"C","anchor":"start","frame":"group","offset":-20,"baseline":"alphabetic","fontSize":29,"fontWeight":"bold"}},
{"width":96,"height":144,"resolve":{"scale":{"size":"independent"}},"layer":[
{"data":{"name":"c1"},"transform":[{"filter":"datum.c==='d'"},{"density":"v","groupby":["c"],"bandwidth":12,"extent":[-100,500],"steps":150,"as":["v","dens"]}],"mark":{"type":"tick","orient":"horizontal","thickness":1.5,"color":"#c6c9ea"},"encoding":{"x":{"field":"c","type":"nominal","scale":{"type":"band","domain":["d","p","j"],"paddingInner":0,"paddingOuter":0}},"y":{"field":"v","type":"quantitative"},"size":{"field":"dens","type":"quantitative","scale":{"range":[0,30],"zero":true},"legend":null}}},
{"data":{"name":"c1"},"transform":[{"filter":"datum.c==='p'"},{"density":"v","groupby":["c"],"bandwidth":12,"extent":[-100,500],"steps":150,"as":["v","dens"]}],"mark":{"type":"tick","orient":"horizontal","thickness":1.5,"color":"#ebc7d7"},"encoding":{"x":{"field":"c","type":"nominal","scale":{"type":"band","domain":["d","p","j"],"paddingInner":0,"paddingOuter":0}},"y":{"field":"v","type":"quantitative"},"size":{"field":"dens","type":"quantitative","scale":{"range":[0,30],"zero":true},"legend":null}}},
{"data":{"name":"c1"},"transform":[{"filter":"datum.c==='j'"},{"density":"v","groupby":["c"],"bandwidth":12,"extent":[-100,500],"steps":150,"as":["v","dens"]}],"mark":{"type":"tick","orient":"horizontal","thickness":1.5,"color":"#c4e6d1"},"encoding":{"x":{"field":"c","type":"nominal","scale":{"type":"band","domain":["d","p","j"],"paddingInner":0,"paddingOuter":0}},"y":{"field":"v","type":"quantitative"},"size":{"field":"dens","type":"quantitative","scale":{"range":[0,30],"zero":true},"legend":null}}},
{"data":{"values":[{}]},"mark":{"type":"rule","strokeDash":[2,2],"color":"#777","strokeWidth":1},"encoding":{"y":{"datum":20}}},
{"data":{"name":"c1"},"transform":[{"window":[{"op":"count","as":"one"}],"frame":[0,0],"ignorePeers":true},{"stack":"one","groupby":["c","v"],"offset":"center","as":["j0","j1"]}],"mark":{"type":"circle","size":9,"opacity":1},"encoding":{"x":{"field":"c","type":"nominal","scale":{"type":"band","domain":["d","p","j"],"paddingInner":0,"paddingOuter":0},"axis":{"title":null,"labelExpr":"datum.value=='d'?'dist colon':datum.value=='p'?'prox colon':'jejunum'","labelAngle":-45,"labelAlign":"right","labelBaseline":"middle","labelPadding":2,"tickSize":4}},"xOffset":{"field":"j0","type":"quantitative","scale":{"domain":[-1,9]}},"y":{"field":"v","type":"quantitative","scale":{"domain":[-100,500],"nice":false,"zero":false},"axis":{"values":[0,200,400],"tickCount":10,"format":"d","title":"Fluorescence intensity"}},"color":{"field":"c","type":"nominal","scale":{"domain":["d","p","j"],"range":["#1d2a8e","#8e1650","#16793d"]},"legend":null}}},
{"data":{"values":[{}]},"mark":{"type":"rect","color":"#ff5353","stroke":"#ffb3b3","strokeWidth":1},"encoding":{"y":{"datum":537},"y2":{"datum":471}}},
{"data":{"values":[{}]},"mark":{"type":"text","text":"TTX 0.5μM","fontSize":13},"encoding":{"y":{"datum":504}}}]},
{"width":94,"height":1,"data":{"values":[{}]},"mark":{"type":"text","text":""}},
{"width":96,"height":144,"resolve":{"scale":{"size":"independent"}},"layer":[
{"data":{"name":"c2"},"transform":[{"filter":"datum.c==='d'"},{"density":"v","groupby":["c"],"bandwidth":100,"extent":[-475,2270],"steps":150,"as":["v","dens"]}],"mark":{"type":"tick","orient":"horizontal","thickness":1.5,"color":"#c6c9ea"},"encoding":{"x":{"field":"c","type":"nominal","scale":{"type":"band","domain":["d","p","j"],"paddingInner":0,"paddingOuter":0}},"y":{"field":"v","type":"quantitative"},"size":{"field":"dens","type":"quantitative","scale":{"range":[0,30],"zero":true},"legend":null}}},
{"data":{"name":"c2"},"transform":[{"filter":"datum.c==='p'"},{"density":"v","groupby":["c"],"bandwidth":100,"extent":[-475,2270],"steps":150,"as":["v","dens"]}],"mark":{"type":"tick","orient":"horizontal","thickness":1.5,"color":"#ebc7d7"},"encoding":{"x":{"field":"c","type":"nominal","scale":{"type":"band","domain":["d","p","j"],"paddingInner":0,"paddingOuter":0}},"y":{"field":"v","type":"quantitative"},"size":{"field":"dens","type":"quantitative","scale":{"range":[0,30],"zero":true},"legend":null}}},
{"data":{"name":"c2"},"transform":[{"filter":"datum.c==='j'"},{"density":"v","groupby":["c"],"bandwidth":100,"extent":[-475,2270],"steps":150,"as":["v","dens"]}],"mark":{"type":"tick","orient":"horizontal","thickness":1.5,"color":"#c4e6d1"},"encoding":{"x":{"field":"c","type":"nominal","scale":{"type":"band","domain":["d","p","j"],"paddingInner":0,"paddingOuter":0}},"y":{"field":"v","type":"quantitative"},"size":{"field":"dens","type":"quantitative","scale":{"range":[0,30],"zero":true},"legend":null}}},
{"data":{"values":[{}]},"mark":{"type":"rule","strokeDash":[2,2],"color":"#777","strokeWidth":1},"encoding":{"y":{"datum":0}}},
{"data":{"name":"c2"},"mark":{"type":"tick","orient":"horizontal","color":"#000","thickness":1.5,"size":16},"encoding":{"x":{"field":"c","type":"nominal","scale":{"type":"band","domain":["d","p","j"],"paddingInner":0,"paddingOuter":0}},"y":{"aggregate":"median","field":"v","type":"quantitative"}}},
{"data":{"name":"c2"},"transform":[{"window":[{"op":"count","as":"one"}],"frame":[0,0],"ignorePeers":true},{"stack":"one","groupby":["c","v"],"offset":"center","as":["j0","j1"]}],"mark":{"type":"circle","size":9,"opacity":1},"encoding":{"x":{"field":"c","type":"nominal","scale":{"type":"band","domain":["d","p","j"],"paddingInner":0,"paddingOuter":0},"axis":{"title":null,"labelExpr":"datum.value=='d'?'dist colon':datum.value=='p'?'prox colon':'jejunum'","labelAngle":-45,"labelAlign":"right","labelBaseline":"middle","labelPadding":2,"tickSize":4}},"xOffset":{"field":"j0","type":"quantitative","scale":{"domain":[-1.5,8.5]}},"y":{"field":"v","type":"quantitative","scale":{"domain":[-475,2270],"nice":false,"zero":false},"axis":{"values":[0,500,1000,1500,2000],"tickCount":10,"format":"d","title":"ΔF/F₀"}},"color":{"field":"c","type":"nominal","scale":{"domain":["d","p","j"],"range":["#1d2a8e","#8e1650","#16793d"]},"legend":null}}},
{"data":{"values":[{}]},"mark":{"type":"rect","color":"#ff5353","stroke":"#ffb3b3","strokeWidth":1},"encoding":{"y":{"datum":2438},"y2":{"datum":2134}}},
{"data":{"values":[{}]},"mark":{"type":"text","text":"TTX 0.5μM","fontSize":13},"encoding":{"y":{"datum":2286}}}]},
{"width":95,"height":1,"data":{"values":[{}]},"mark":{"type":"text","text":""}},
{"width":96,"height":144,"resolve":{"scale":{"size":"independent"}},"layer":[
{"data":{"name":"c3"},"transform":[{"filter":"datum.c==='d'"},{"density":"v","groupby":["c"],"bandwidth":110,"extent":[-500,3000],"steps":150,"as":["v","dens"]}],"mark":{"type":"tick","orient":"horizontal","thickness":1.5,"color":"#c6c9ea"},"encoding":{"x":{"field":"c","type":"nominal","scale":{"type":"band","domain":["d","p","j"],"paddingInner":0,"paddingOuter":0}},"y":{"field":"v","type":"quantitative"},"size":{"field":"dens","type":"quantitative","scale":{"range":[0,30],"zero":true},"legend":null}}},
{"data":{"name":"c3"},"transform":[{"filter":"datum.c==='p'"},{"density":"v","groupby":["c"],"bandwidth":110,"extent":[-500,3000],"steps":150,"as":["v","dens"]}],"mark":{"type":"tick","orient":"horizontal","thickness":1.5,"color":"#ebc7d7"},"encoding":{"x":{"field":"c","type":"nominal","scale":{"type":"band","domain":["d","p","j"],"paddingInner":0,"paddingOuter":0}},"y":{"field":"v","type":"quantitative"},"size":{"field":"dens","type":"quantitative","scale":{"range":[0,30],"zero":true},"legend":null}}},
{"data":{"name":"c3"},"transform":[{"filter":"datum.c==='j'"},{"density":"v","groupby":["c"],"bandwidth":110,"extent":[-500,3000],"steps":150,"as":["v","dens"]}],"mark":{"type":"tick","orient":"horizontal","thickness":1.5,"color":"#c4e6d1"},"encoding":{"x":{"field":"c","type":"nominal","scale":{"type":"band","domain":["d","p","j"],"paddingInner":0,"paddingOuter":0}},"y":{"field":"v","type":"quantitative"},"size":{"field":"dens","type":"quantitative","scale":{"range":[0,30],"zero":true},"legend":null}}},
{"data":{"values":[{}]},"mark":{"type":"rule","strokeDash":[2,2],"color":"#777","strokeWidth":1},"encoding":{"y":{"datum":0}}},
{"data":{"name":"c3"},"mark":{"type":"tick","orient":"horizontal","color":"#000","thickness":1.5,"size":16},"encoding":{"x":{"field":"c","type":"nominal","scale":{"type":"band","domain":["d","p","j"],"paddingInner":0,"paddingOuter":0}},"y":{"aggregate":"median","field":"v","type":"quantitative"}}},
{"data":{"name":"c3"},"transform":[{"window":[{"op":"count","as":"one"}],"frame":[0,0],"ignorePeers":true},{"stack":"one","groupby":["c","v"],"offset":"center","as":["j0","j1"]}],"mark":{"type":"circle","size":9,"opacity":1},"encoding":{"x":{"field":"c","type":"nominal","scale":{"type":"band","domain":["d","p","j"],"paddingInner":0,"paddingOuter":0},"axis":{"title":null,"labelExpr":"datum.value=='d'?'dist colon':datum.value=='p'?'prox colon':'jejunum'","labelAngle":-45,"labelAlign":"right","labelBaseline":"middle","labelPadding":2,"tickSize":4}},"xOffset":{"field":"j0","type":"quantitative","scale":{"domain":[-0.5,9.5]}},"y":{"field":"v","type":"quantitative","scale":{"domain":[-500,3000],"nice":false,"zero":false},"axis":{"values":[0,1000,2000,3000],"tickCount":10,"format":"d","title":"Δ Fluorescence"}},"color":{"field":"c","type":"nominal","scale":{"domain":["d","p","j"],"range":["#1d2a8e","#8e1650","#16793d"]},"legend":null}}},
{"data":{"values":[{}]},"mark":{"type":"rect","color":"#ff5353","stroke":"#ffb3b3","strokeWidth":1},"encoding":{"y":{"datum":3194},"y2":{"datum":2830}}},
{"data":{"values":[{}]},"mark":{"type":"text","text":"TTX 0.5μM","fontSize":13},"encoding":{"y":{"datum":3012}}}]},
{"width":70,"height":1,"data":{"values":[{}]},"mark":{"type":"text","text":""}},
{"width":96,"height":144,"resolve":{"scale":{"size":"independent"}},"layer":[
{"data":{"name":"c4"},"transform":[{"filter":"datum.c==='d'"},{"density":"v","groupby":["c"],"bandwidth":0.08,"extent":[-0.5,2.5],"steps":150,"as":["v","dens"]}],"mark":{"type":"tick","orient":"horizontal","thickness":1.5,"color":"#c6c9ea"},"encoding":{"x":{"field":"c","type":"nominal","scale":{"type":"band","domain":["d","p","j"],"paddingInner":0,"paddingOuter":0}},"y":{"field":"v","type":"quantitative"},"size":{"field":"dens","type":"quantitative","scale":{"range":[0,30],"zero":true},"legend":null}}},
{"data":{"name":"c4"},"transform":[{"filter":"datum.c==='p'"},{"density":"v","groupby":["c"],"bandwidth":0.08,"extent":[-0.5,2.5],"steps":150,"as":["v","dens"]}],"mark":{"type":"tick","orient":"horizontal","thickness":1.5,"color":"#ebc7d7"},"encoding":{"x":{"field":"c","type":"nominal","scale":{"type":"band","domain":["d","p","j"],"paddingInner":0,"paddingOuter":0}},"y":{"field":"v","type":"quantitative"},"size":{"field":"dens","type":"quantitative","scale":{"range":[0,30],"zero":true},"legend":null}}},
{"data":{"name":"c4"},"transform":[{"filter":"datum.c==='j'"},{"density":"v","groupby":["c"],"bandwidth":0.1,"extent":[-0.5,2.5],"steps":150,"as":["v","dens"]}],"mark":{"type":"tick","orient":"horizontal","thickness":1.5,"color":"#c4e6d1"},"encoding":{"x":{"field":"c","type":"nominal","scale":{"type":"band","domain":["d","p","j"],"paddingInner":0,"paddingOuter":0}},"y":{"field":"v","type":"quantitative"},"size":{"field":"dens","type":"quantitative","scale":{"range":[0,30],"zero":true},"legend":null}}},
{"data":{"values":[{}]},"mark":{"type":"rule","strokeDash":[2,2],"color":"#777","strokeWidth":1},"encoding":{"y":{"datum":0}}},
{"data":{"name":"c4"},"mark":{"type":"tick","orient":"horizontal","color":"#000","thickness":1.5,"size":16},"encoding":{"x":{"field":"c","type":"nominal","scale":{"type":"band","domain":["d","p","j"],"paddingInner":0,"paddingOuter":0}},"y":{"aggregate":"median","field":"v","type":"quantitative"}}},
{"data":{"name":"c4"},"transform":[{"window":[{"op":"count","as":"one"}],"frame":[0,0],"ignorePeers":true},{"stack":"one","groupby":["c","v"],"offset":"center","as":["j0","j1"]}],"mark":{"type":"circle","size":9,"opacity":1},"encoding":{"x":{"field":"c","type":"nominal","scale":{"type":"band","domain":["d","p","j"],"paddingInner":0,"paddingOuter":0},"axis":{"title":null,"labelExpr":"datum.value=='d'?'dist colon':datum.value=='p'?'prox colon':'jejunum'","labelAngle":-45,"labelAlign":"right","labelBaseline":"middle","labelPadding":2,"tickSize":4}},"xOffset":{"field":"j0","type":"quantitative","scale":{"domain":[-0.5,8.5]}},"y":{"field":"v","type":"quantitative","scale":{"domain":[-0.5,2.5],"nice":false,"zero":false},"axis":{"values":[0,1,2],"tickCount":10,"format":"d","title":"Latency (min)"}},"color":{"field":"c","type":"nominal","scale":{"domain":["d","p","j"],"range":["#1d2a8e","#8e1650","#16793d"]},"legend":null}}},
{"data":{"values":[{}]},"mark":{"type":"rect","color":"#ff5353","stroke":"#ffb3b3","strokeWidth":1},"encoding":{"y":{"datum":2.69},"y2":{"datum":2.35}}},
{"data":{"values":[{}]},"mark":{"type":"text","text":"TTX 0.5μM","fontSize":13},"encoding":{"y":{"datum":2.52}}}]},
{"width":68,"height":1,"data":{"values":[{}]},"mark":{"type":"text","text":""}},
{"width":96,"height":144,"resolve":{"scale":{"size":"independent"}},"layer":[
{"data":{"name":"c5"},"transform":[{"filter":"datum.c==='d'"},{"density":"v","groupby":["c"],"bandwidth":0.08,"extent":[-0.5,6],"steps":150,"as":["v","dens"]}],"mark":{"type":"tick","orient":"horizontal","thickness":1.5,"color":"#c6c9ea"},"encoding":{"x":{"field":"c","type":"nominal","scale":{"type":"band","domain":["d","p","j"],"paddingInner":0,"paddingOuter":0}},"y":{"field":"v","type":"quantitative"},"size":{"field":"dens","type":"quantitative","scale":{"range":[0,30],"zero":true},"legend":null}}},
{"data":{"name":"c5"},"transform":[{"filter":"datum.c==='p'"},{"density":"v","groupby":["c"],"bandwidth":0.12,"extent":[-0.5,6],"steps":150,"as":["v","dens"]}],"mark":{"type":"tick","orient":"horizontal","thickness":1.5,"color":"#ebc7d7"},"encoding":{"x":{"field":"c","type":"nominal","scale":{"type":"band","domain":["d","p","j"],"paddingInner":0,"paddingOuter":0}},"y":{"field":"v","type":"quantitative"},"size":{"field":"dens","type":"quantitative","scale":{"range":[0,30],"zero":true},"legend":null}}},
{"data":{"name":"c5"},"transform":[{"filter":"datum.c==='j'"},{"density":"v","groupby":["c"],"bandwidth":0.18,"extent":[-0.5,6],"steps":150,"as":["v","dens"]}],"mark":{"type":"tick","orient":"horizontal","thickness":1.5,"color":"#c4e6d1"},"encoding":{"x":{"field":"c","type":"nominal","scale":{"type":"band","domain":["d","p","j"],"paddingInner":0,"paddingOuter":0}},"y":{"field":"v","type":"quantitative"},"size":{"field":"dens","type":"quantitative","scale":{"range":[0,30],"zero":true},"legend":null}}},
{"data":{"values":[{}]},"mark":{"type":"rule","strokeDash":[2,2],"color":"#777","strokeWidth":1},"encoding":{"y":{"datum":0}}},
{"data":{"name":"c5"},"mark":{"type":"tick","orient":"horizontal","color":"#000","thickness":1.5,"size":16},"encoding":{"x":{"field":"c","type":"nominal","scale":{"type":"band","domain":["d","p","j"],"paddingInner":0,"paddingOuter":0}},"y":{"aggregate":"median","field":"v","type":"quantitative"}}},
{"data":{"name":"c5"},"transform":[{"window":[{"op":"count","as":"one"}],"frame":[0,0],"ignorePeers":true},{"stack":"one","groupby":["c","v"],"offset":"center","as":["j0","j1"]}],"mark":{"type":"circle","size":9,"opacity":1},"encoding":{"x":{"field":"c","type":"nominal","scale":{"type":"band","domain":["d","p","j"],"paddingInner":0,"paddingOuter":0},"axis":{"title":null,"labelExpr":"datum.value=='d'?'dist colon':datum.value=='p'?'prox colon':'jejunum'","labelAngle":-45,"labelAlign":"right","labelBaseline":"middle","labelPadding":2,"tickSize":4}},"xOffset":{"field":"j0","type":"quantitative","scale":{"domain":[-1,9]}},"y":{"field":"v","type":"quantitative","scale":{"domain":[-0.5,6],"nice":false,"zero":false},"axis":{"values":[0,2,4,6],"tickCount":10,"format":"d","title":"time to peak (min)"}},"color":{"field":"c","type":"nominal","scale":{"domain":["d","p","j"],"range":["#1d2a8e","#8e1650","#16793d"]},"legend":null}}},
{"data":{"values":[{}]},"mark":{"type":"rect","color":"#ff5353","stroke":"#ffb3b3","strokeWidth":1},"encoding":{"y":{"datum":6.41},"y2":{"datum":5.68}}},
{"data":{"values":[{}]},"mark":{"type":"text","text":"TTX 0.5μM","fontSize":13},"encoding":{"y":{"datum":6.05}}}]},
{"width":68,"height":1,"data":{"values":[{}]},"mark":{"type":"text","text":""}},
{"width":96,"height":144,"resolve":{"scale":{"size":"independent"}},"layer":[
{"data":{"name":"c6"},"transform":[{"filter":"datum.c==='d'"},{"density":"v","groupby":["c"],"bandwidth":0.2,"extent":[0,9],"steps":150,"as":["v","dens"]}],"mark":{"type":"tick","orient":"horizontal","thickness":1.5,"color":"#c6c9ea"},"encoding":{"x":{"field":"c","type":"nominal","scale":{"type":"band","domain":["d","p","j"],"paddingInner":0,"paddingOuter":0}},"y":{"field":"v","type":"quantitative"},"size":{"field":"dens","type":"quantitative","scale":{"range":[0,30],"zero":true},"legend":null}}},
{"data":{"name":"c6"},"transform":[{"filter":"datum.c==='p'"},{"density":"v","groupby":["c"],"bandwidth":0.25,"extent":[0,9],"steps":150,"as":["v","dens"]}],"mark":{"type":"tick","orient":"horizontal","thickness":1.5,"color":"#ebc7d7"},"encoding":{"x":{"field":"c","type":"nominal","scale":{"type":"band","domain":["d","p","j"],"paddingInner":0,"paddingOuter":0}},"y":{"field":"v","type":"quantitative"},"size":{"field":"dens","type":"quantitative","scale":{"range":[0,30],"zero":true},"legend":null}}},
{"data":{"name":"c6"},"transform":[{"filter":"datum.c==='j'"},{"density":"v","groupby":["c"],"bandwidth":0.3,"extent":[0,9],"steps":150,"as":["v","dens"]}],"mark":{"type":"tick","orient":"horizontal","thickness":1.5,"color":"#c4e6d1"},"encoding":{"x":{"field":"c","type":"nominal","scale":{"type":"band","domain":["d","p","j"],"paddingInner":0,"paddingOuter":0}},"y":{"field":"v","type":"quantitative"},"size":{"field":"dens","type":"quantitative","scale":{"range":[0,30],"zero":true},"legend":null}}},
{"data":{"values":[{}]},"mark":{"type":"rule","strokeDash":[2,2],"color":"#777","strokeWidth":1},"encoding":{"y":{"datum":6}}},
{"data":{"name":"c6"},"mark":{"type":"tick","orient":"horizontal","color":"#000","thickness":1.5,"size":16},"encoding":{"x":{"field":"c","type":"nominal","scale":{"type":"band","domain":["d","p","j"],"paddingInner":0,"paddingOuter":0}},"y":{"aggregate":"median","field":"v","type":"quantitative"}}},
{"data":{"name":"c6"},"transform":[{"window":[{"op":"count","as":"one"}],"frame":[0,0],"ignorePeers":true},{"stack":"one","groupby":["c","v"],"offset":"center","as":["j0","j1"]}],"mark":{"type":"circle","size":9,"opacity":1},"encoding":{"x":{"field":"c","type":"nominal","scale":{"type":"band","domain":["d","p","j"],"paddingInner":0,"paddingOuter":0},"axis":{"title":null,"labelExpr":"datum.value=='d'?'dist colon':datum.value=='p'?'prox colon':'jejunum'","labelAngle":-45,"labelAlign":"right","labelBaseline":"middle","labelPadding":2,"tickSize":4}},"xOffset":{"field":"j0","type":"quantitative","scale":{"domain":[-0.5,9.5]}},"y":{"field":"v","type":"quantitative","scale":{"domain":[0,9],"nice":false,"zero":false},"axis":{"values":[0,2,4,6,8],"tickCount":10,"format":"d","title":"Decay time (min)"}},"color":{"field":"c","type":"nominal","scale":{"domain":["d","p","j"],"range":["#1d2a8e","#8e1650","#16793d"]},"legend":null}}},
{"data":{"values":[{}]},"mark":{"type":"rect","color":"#ff5353","stroke":"#ffb3b3","strokeWidth":1},"encoding":{"y":{"datum":9.56},"y2":{"datum":8.56}}},
{"data":{"values":[{}]},"mark":{"type":"text","text":"TTX 0.5μM","fontSize":13},"encoding":{"y":{"datum":9.06}}}]}
]}
]
}
